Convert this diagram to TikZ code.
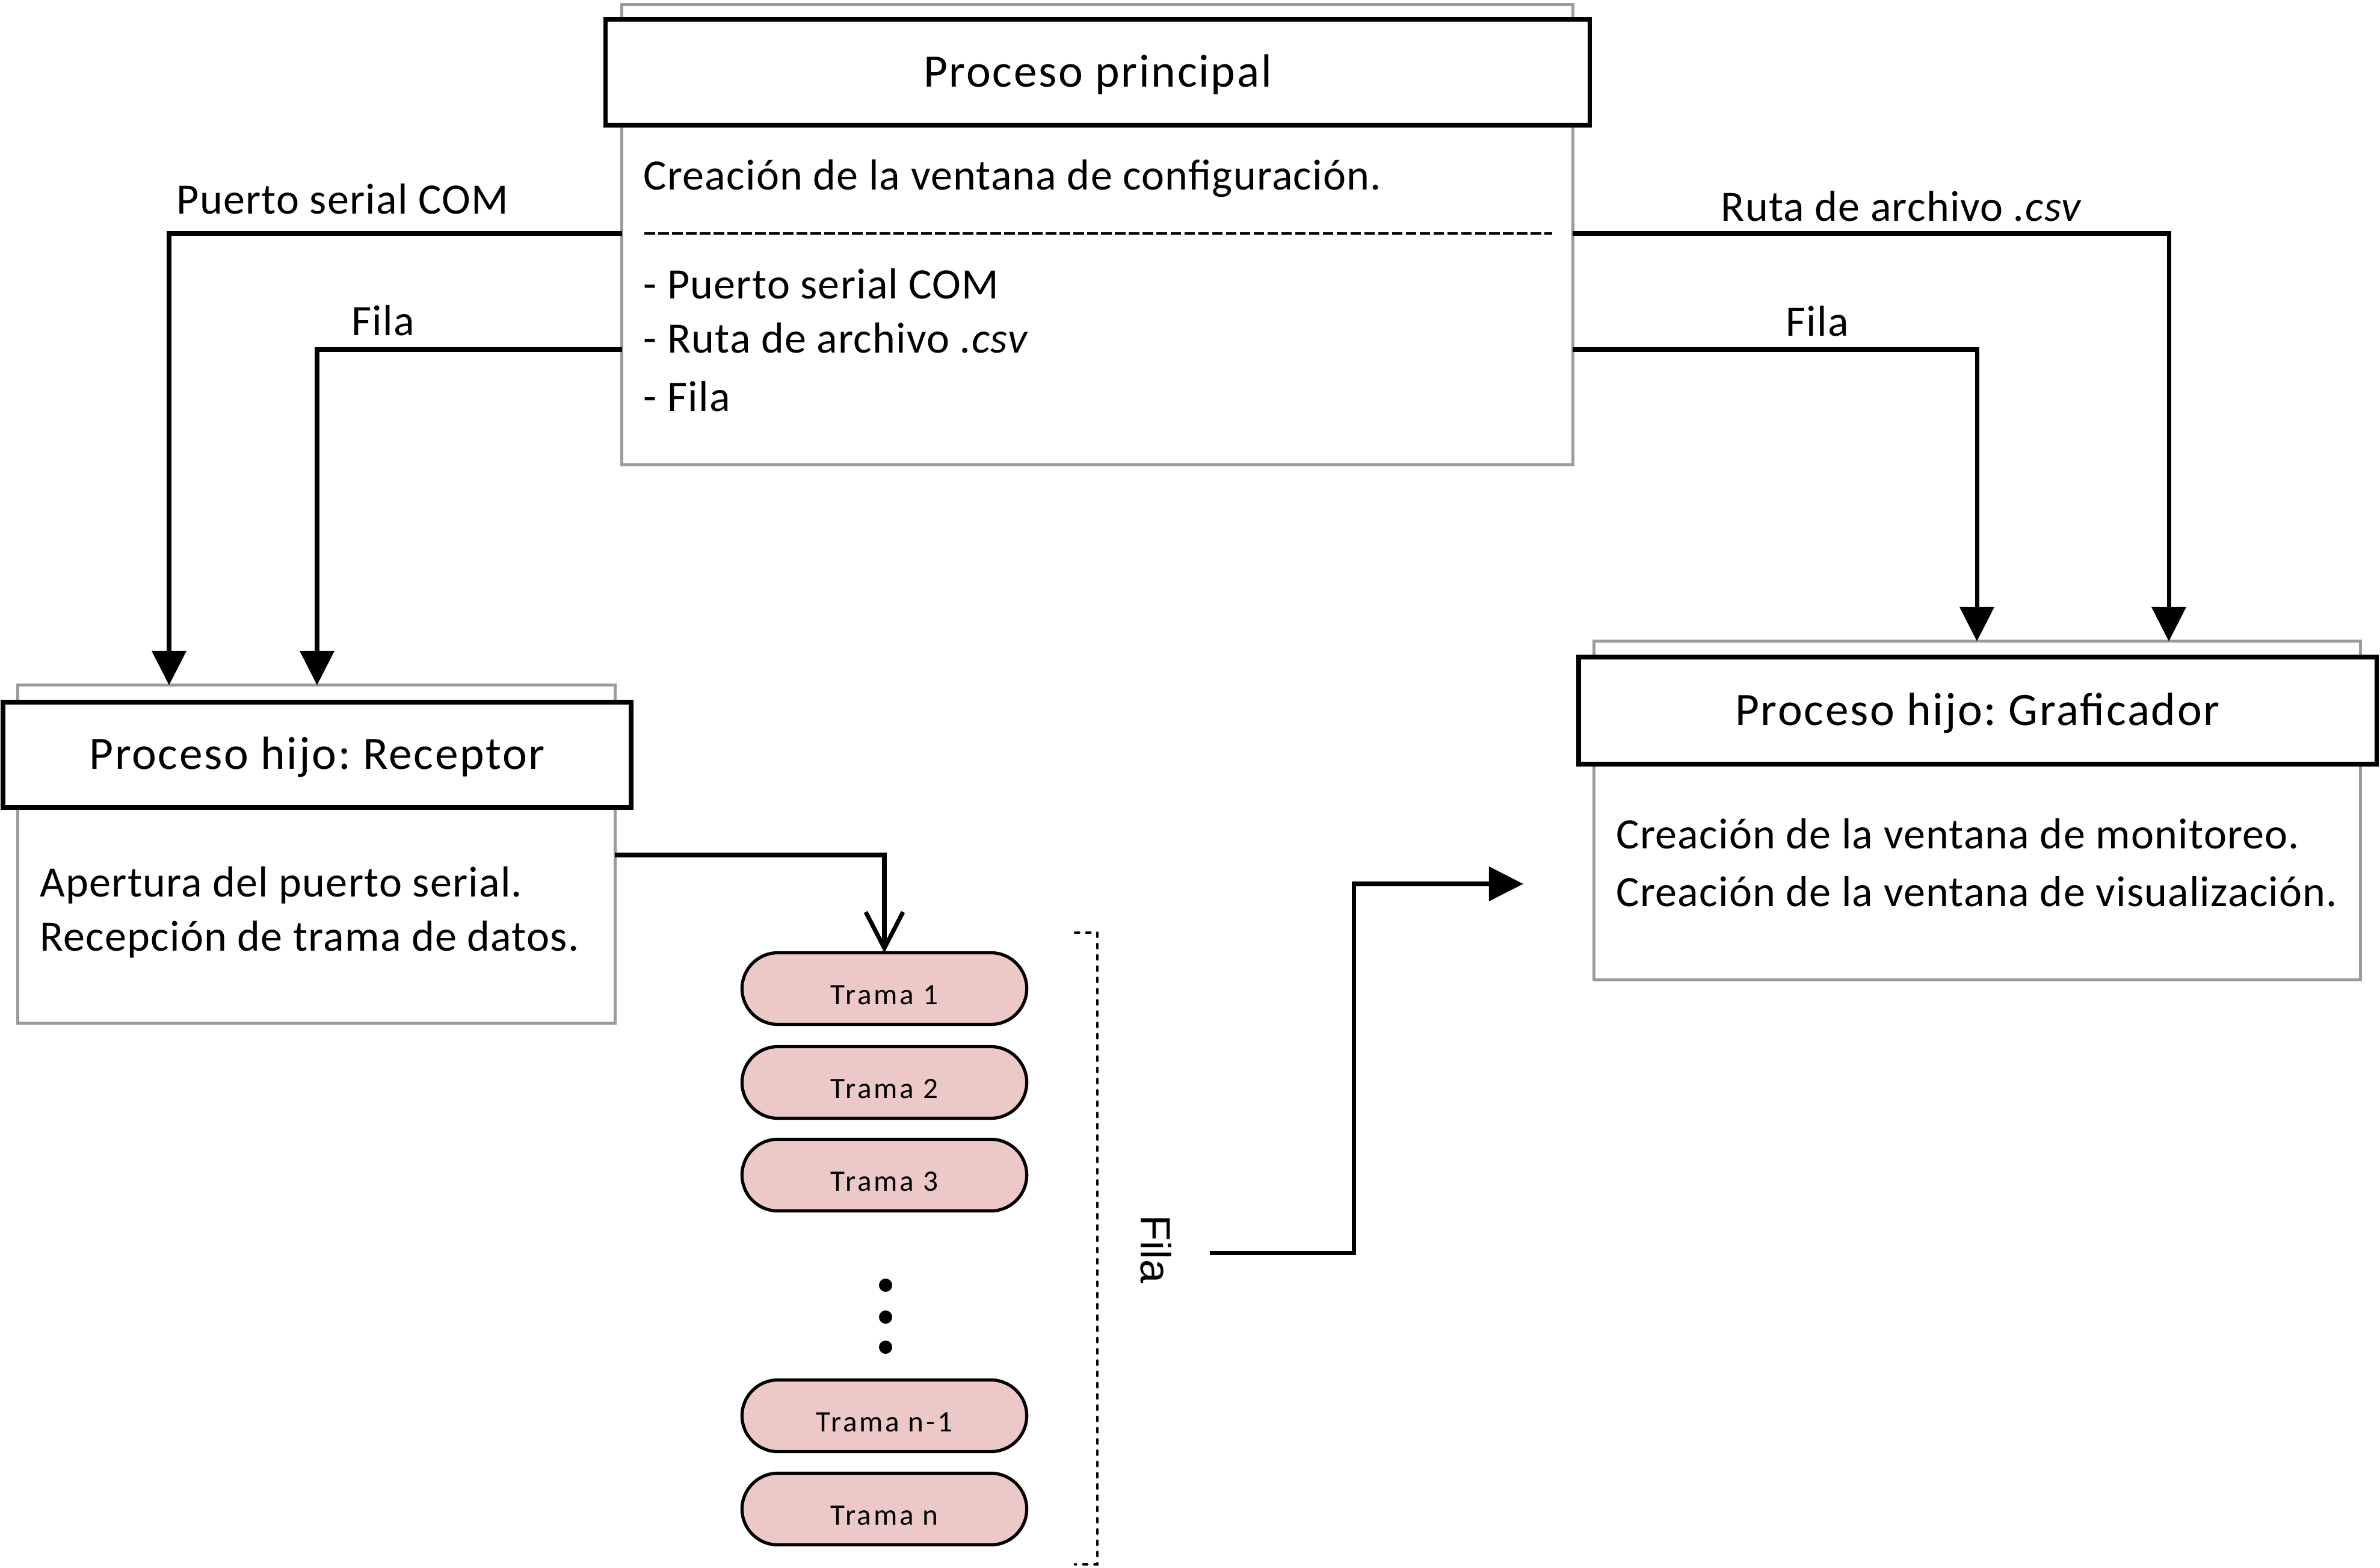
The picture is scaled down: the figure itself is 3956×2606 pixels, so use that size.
\documentclass[tikz,border=0pt]{standalone}
\usepackage{fontspec}
\setmainfont{Carlito}[LetterSpace=1.7]
\newfontfamily\titlef{Carlito}[LetterSpace=3.5]
\newfontfamily\tramaf{Carlito}[LetterSpace=7.5]
\newfontfamily\arialf{Liberation Sans}
\usetikzlibrary{arrows.meta,shapes.misc}
\definecolor{grayb}{HTML}{9B9B9B}
\definecolor{tramafill}{HTML}{ECC9C7}
\frenchspacing
\begin{document}
\begin{tikzpicture}[x=0.01cm,y=-0.01cm,
  graybox/.style={draw=grayb, line width=1.5pt, inner sep=0pt, outer sep=0pt, fill=white},
  titlebox/.style={draw=black, line width=2.2pt, fill=white, inner sep=0pt, outer sep=0pt, text height=0.48cm, text depth=0cm, font=\titlef\fontsize{22}{26}\selectfont},
  body/.style={font=\fontsize{20.5}{24}\selectfont, inner sep=0pt, anchor=base west},
  conn/.style={line width=2pt},
  arr/.style={conn, -{Triangle[length=0.57cm,width=0.56cm]}},
  openarr/.style={conn, -{Straight Barb[length=0.6cm,width=0.62cm]}},
  trama/.style={rounded rectangle, draw, line width=1.5pt, fill=tramafill, minimum width=4.73cm, minimum height=1.19cm, inner sep=0pt, outer sep=0pt, text height=0.53cm, text depth=0cm, font=\tramaf\fontsize{14}{16}\selectfont},
  dotn/.style={circle, fill=black, inner sep=0pt, minimum size=0.22cm},
  bracket/.style={line width=1.3pt, line cap=round, dash pattern=on 0.065cm off 0.122cm}
]
\useasboundingbox[fill=white] (0,0) rectangle (3956,2606);

% Principal process
\node[graybox, minimum width=15.80cm, minimum height=7.64cm] (pg) at (1824,390) {};
\node[titlebox, minimum width=16.35cm, minimum height=1.76cm] (pt) at (1824.5,120) {Proceso principal};
\node[body] (pc1) at (1069,315) {Creación de la ventana de configuración.};
\coordinate (sepa) at (1071,388);
\coordinate (sepb) at (2580,388);
\draw[line width=1.3pt, dash pattern=on 0.177cm off 0.053cm] (sepa) -- (sepb);
\node[body] (pc2) at (1069,496) {- Puerto serial COM};
\node[body] (pc3) at (1069,586) {- Ruta de archivo \textit{.csv}};
\node[body] (pc4) at (1069,683) {- Fila};

% Receptor
\node[graybox, minimum width=9.92cm, minimum height=5.61cm] (rg) at (526,1419.5) {};
\node[titlebox, minimum width=10.44cm, minimum height=1.75cm] (rt) at (527,1254.5) {Proceso hijo: Receptor};
\node[body] (rc1) at (66,1490) {Apertura del puerto serial.};
\node[body] (rc2) at (66,1580) {Recepción de trama de datos.};

% Graficador
\node[graybox, minimum width=12.73cm, minimum height=5.62cm] (gg) at (3286.5,1347) {};
\node[titlebox, minimum width=13.26cm, minimum height=1.78cm] (gt) at (3287,1181) {Proceso hijo: Graficador};
\node[body] (gc1) at (2686,1410) {Creación de la ventana de monitoreo.};
\node[body] (gc2) at (2686,1506) {Creación de la ventana de visualización.};

% Labels
\node[body] (lpc) at (293,355) {Puerto serial COM};
\node[body] (lfl) at (584,557) {Fila};
\node[body] (lrc) at (2860,367) {Ruta de archivo \textit{.csv}};
\node[body] (lfr) at (2968,558) {Fila};

% Connector helper coordinates
\coordinate (yA) at (0,388);
\coordinate (yB) at (0,581);
\coordinate (xL1) at (281,0);
\coordinate (xL2) at (527,0);
\coordinate (xR1) at (3605,0);
\coordinate (xR2) at (3286,0);
\coordinate (yR) at (0,1421);

\draw[arr] (pg.west |- yA) -| (rg.north -| xL1);
\draw[arr] (pg.west |- yB) -| (rg.north -| xL2);
\draw[arr] (pg.east |- yA) -| (gg.north -| xR1);
\draw[arr] (pg.east |- yB) -| (gg.north -| xR2);

% Queue
\node[trama] (t1) at (1470,1643) {Trama 1};
\node[trama] (t2) at (1470,1799) {Trama 2};
\node[trama] (t3) at (1470,1953) {Trama 3};
\node[dotn] (d1) at (1472,2136) {};
\node[dotn] (d2) at (1472,2189) {};
\node[dotn] (d3) at (1472,2239) {};
\node[trama] (tn1) at (1470,2353) {Trama n-1};
\node[trama] (tn) at (1470,2508) {Trama n};

\draw[openarr] (rg.east |- yR) -| (t1.north);

\coordinate (bra) at (1787,1550);
\coordinate (brb) at (1824,1550);
\coordinate (brc) at (1824,2600);
\coordinate (brd) at (1787,2600);
\draw[bracket] (bra) -- (brb) -- (brc) -- (brd);

\node[font=\arialf\fontsize{20}{24}\selectfont, rotate=-90, inner sep=0pt] (fila) at (1922,2076) {Fila};

\coordinate (fs) at (2011,2082);
\coordinate (fm) at (2250,0);
\coordinate (fe) at (2532,1469);
\draw[arr] (fs) -| (fm |- fe) -- (fe);
\end{tikzpicture}
\end{document}
